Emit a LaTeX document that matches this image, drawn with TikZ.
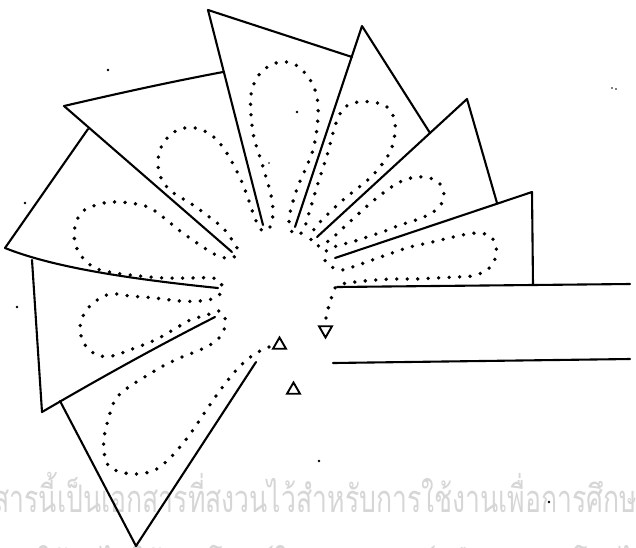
\documentclass[tikz,border=0pt]{standalone}
\usepackage{fontspec}
\newfontfamily\thaifont[Script=Thai]{Loma}
\usetikzlibrary{shapes.geometric}
\begin{document}
\begin{tikzpicture}[x=1pt,y=-1pt,
  fold/.style={line width=2.1pt, line cap=round, line join=round},
  dotline/.style={line width=3.8pt, line cap=round, dash pattern=on 0pt off 10.5pt},
  marker/.style={regular polygon, regular polygon sides=3, draw, line width=1.9pt,
                 inner sep=0pt, minimum size=15pt},
  speck/.style={fill=black, circle, inner sep=0pt, minimum size=2.8pt},
  watermark/.style={text=black!16, inner sep=0pt, anchor=base west}]
\useasboundingbox (0,0) rectangle (636,547);
\clip (0,0) rectangle (636,547);

% faint watermark lines behind the drawing
\node[watermark] (wm1) at (-48,512)
  {\resizebox{700pt}{\height}{\fontsize{38pt}{40pt}\thaifont เอกสารนี้เป็นเอกสารที่สงวนไว้สำหรับการใช้งานเพื่อการศึกษา}};
\node[watermark] (wm2) at (-30,579)
  {\scalebox{0.7}[1]{\fontsize{38pt}{40pt}\thaifont ห้ามมิให้นำไปใช้ประโยชน์ในเชิงพาณิชย์หรือเผยแพร่โดยไม่ได้รับอนุญาต}};

% fanned paper leaves
\draw[fold] (208,10) -- (352,57);
\draw[fold] (208,10) -- (263,225);
\draw[fold] (64,106) .. controls (120,93) and (170,82) .. (223,72);
\draw[fold] (64,106) -- (232,252);
\draw[fold] (88,129) -- (5,248);
\draw[fold] (5,248) .. controls (50,266) and (120,278) .. (218,288);
\draw[fold] (32,260) -- (42,412);
\draw[fold] (42,412) .. controls (90,384) and (150,350) .. (215,317);
\draw[fold] (60,401) -- (136,546) -- (256,362);
\draw[fold] (295,227) -- (362,26) -- (430,133);
\draw[fold] (317,237) -- (467,99) -- (497,203);
\draw[fold] (335,258) -- (532,192) -- (533,285);
\draw[fold] (337,287) -- (630,284);
\draw[fold] (333,363) -- (630,359);

% dotted petal outline, one continuous run
\draw[dotline] plot[smooth, tension=0.55] coordinates {
  (269,347) (262,350) (253,355) (240,366) (228,380) (216,396) (205,412)
  (193,430) (180,447) (168,460) (155,470) (138,474) (120,472) (108,465)
  (104,452) (104,438) (108,420) (115,400) (126,389) (143,378) (163,366)
  (182,357) (202,349) (216,341) (224,330) (225,318) (219,311)
  (207,315) (190,320) (173,330) (155,340) (135,348) (112,356) (97,355)
  (85,345) (80,330) (83,316) (93,303) (110,294) (130,296) (155,298)
  (180,301) (200,301) (215,298) (222,291) (221,283)
  (213,278) (190,278) (165,278) (140,276) (115,273) (95,268) (82,257)
  (75,243) (75,226) (82,212) (96,205) (112,202) (130,203) (148,207)
  (163,217) (180,231) (200,245) (218,256) (232,258) (238,251) (234,243)
  (224,229) (208,216) (190,203) (172,192) (162,180) (158,165) (160,150)
  (168,137) (180,129) (195,128) (210,134) (222,146) (232,162) (241,180)
  (248,198) (253,213) (257,223) (263,231) (270,227)
  (273,213) (271,195) (266,177) (260,157) (254,138) (251,115) (251,95)
  (256,79) (266,68) (280,62) (294,64) (305,73) (314,87) (318,105)
  (317,128) (313,150) (306,168) (298,186) (292,205) (289,220) (292,232)
  (300,234) (305,226) (309,213) (313,200) (318,183) (323,168) (328,152)
  (333,133) (338,118) (345,107) (358,102) (372,102) (386,106) (394,118)
  (395,133) (391,150) (383,163) (372,176) (358,188) (344,199) (331,211)
  (320,222) (313,231) (311,240) (318,246) (330,240) (342,229) (354,218)
  (366,207) (378,197) (390,188) (402,181) (416,177) (430,178) (440,184)
  (444,195) (440,206) (430,214) (416,220) (400,225) (385,231) (370,236)
  (355,241) (340,245) (327,250) (324,258) (330,266) (342,270)
  (358,265) (375,259) (392,253) (410,247) (428,243) (445,239) (462,235)
  (478,233) (490,236) (496,246) (495,259) (487,270) (472,276) (455,277)
  (435,278) (415,279) (395,279) (375,280) (355,282) (342,284) (335,288)
  (332,296) (329,305) (327,314) (325,322)};

% start and end markers of the run
\node[marker] (startmark) at (279.5,345) {};
\node[marker] (sidemark) at (293.5,390) {};
\node[marker, shape border rotate=180] (endmark) at (325.5,330) {};

% stray specks
\node[speck] (s1) at (108,70) {};
\node[speck] (s2) at (25,203) {};
\node[speck] (s3) at (17,307) {};
\node[speck] (s4) at (297,112) {};
\node[speck, minimum size=1.8pt] (s5) at (269,163) {};
\node[speck] (s6) at (319,461) {};
\node[speck] (s7) at (549,502) {};
\node[speck, minimum size=1.8pt] (s8) at (612,88) {};
\node[speck, minimum size=1.8pt] (s9) at (616,89) {};
\end{tikzpicture}
\end{document}
